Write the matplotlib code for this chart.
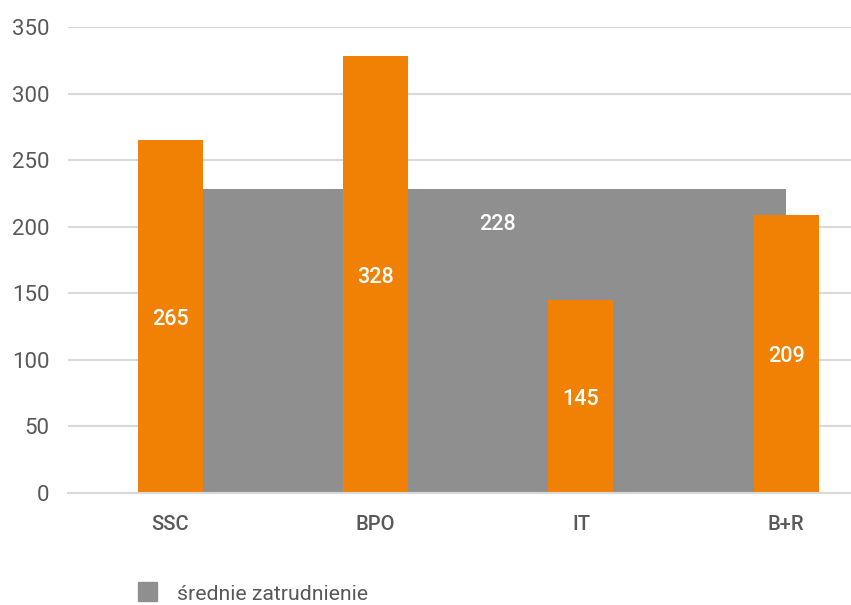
import matplotlib.pyplot as plt
from matplotlib.patches import Rectangle
import numpy as np

# chart data
categories = ['SSC', 'BPO', 'IT', 'B+R']
employment = [265, 328, 145, 209]
avg_employment = 228
avg_label = 'średnie zatrudnienie'
y_ticks = [0, 50, 100, 150, 200, 250, 300, 350]

ORANGE = '#F08105'
GREY = '#8F8F8F'
TEXT = '#595959'
GRID = '#D9D9D9'

plt.rcParams['font.family'] = ['Roboto', 'DejaVu Sans']

fig = plt.figure(figsize=(8.51, 6.05), dpi=100)
# axes run past the right edge like in the original export
ax = fig.add_axes([67.75 / 851, 112 / 605, 821 / 851, 466 / 605])

x = np.arange(len(categories))

# average employment as a flat area behind the bars
ax.fill_between(x, [avg_employment] * len(x), 0, color=GREY, lw=0, zorder=1)
ax.text(1.596, 202, f'{avg_employment}', color='white', fontsize=15.5,
        fontweight='medium', ha='center', va='center', zorder=4)

bars = ax.bar(x, employment, width=65 / 205.25, color=ORANGE, zorder=2)
for bar, val in zip(bars, employment):
    ax.text(bar.get_x() + bar.get_width() / 2, val / 2 - 2, f'{val}', color='white',
            fontsize=15.5, fontweight='medium', ha='center', va='center', zorder=4)

ax.set_xlim(-0.5, 3.5)
ax.set_ylim(0, 350)
ax.set_yticks(y_ticks)
ax.set_yticklabels([str(t) for t in y_ticks], fontsize=16, color=TEXT)
ax.set_xticks(x)
ax.set_xticklabels(categories, fontsize=14.5, color=TEXT, fontweight='medium')
ax.tick_params(axis='both', length=0)
ax.tick_params(axis='y', pad=13)
ax.tick_params(axis='x', pad=16)

ax.grid(axis='y', color=GRID, lw=1.5, zorder=0)
ax.set_axisbelow(True)
for side in ['left', 'right', 'top']:
    ax.spines[side].set_visible(False)
ax.spines['bottom'].set_color(GRID)
ax.spines['bottom'].set_linewidth(1.5)
ax.spines['bottom'].set_zorder(3)

# legend drawn by hand at the bottom left
fig.patches.append(Rectangle((138 / 851, 1 - 601 / 605), 19 / 851, 19 / 605,
                             transform=fig.transFigure, color=GREY))
fig.text(177 / 851, 1 - 594 / 605, avg_label, fontsize=15.3, color=TEXT, va='center')

fig.savefig('out.png', dpi=100)
